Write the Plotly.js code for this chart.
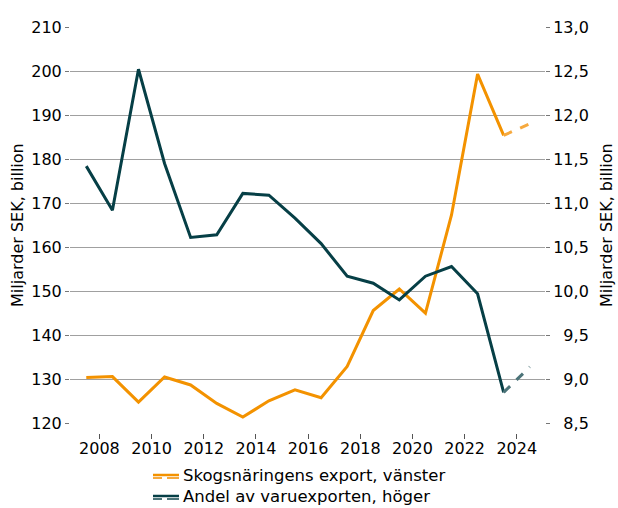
<!DOCTYPE html>
<html>
<head>
<meta charset="utf-8">
<script src="https://cdn.plot.ly/plotly-3.0.1.min.js"></script>
<style>
  html, body { margin: 0; padding: 0; background: #ffffff; }
  #chart { width: 618px; height: 508px; }
</style>
</head>
<body>
<div id="chart"></div>
<script>
// Annual data (plotted at mid-year)
const years = [2007, 2008, 2009, 2010, 2011, 2012, 2013, 2014, 2015, 2016, 2017, 2018, 2019, 2020, 2021, 2022, 2023];
// Skogsnäringens export, Miljarder SEK (left axis)
const exportValues = [130.4, 130.6, 124.8, 130.5, 128.7, 124.5, 121.4, 125.1, 127.6, 125.8, 132.9, 145.6, 150.5, 145.0, 167.3, 199.3, 185.4];
// Andel av varuexporten, procent (right axis)
const shareValues = [11.42, 10.92, 12.52, 11.45, 10.61, 10.64, 11.11, 11.09, 10.83, 10.54, 10.17, 10.09, 9.90, 10.17, 10.28, 9.97, 8.85];
// Forecast segment (dashed)
const forecastYears = [2023, 2024];
const exportForecast = [185.4, 188.0];
const shareForecast = [8.85, 9.14];

const leftTicks = [120, 130, 140, 150, 160, 170, 180, 190, 200, 210];
const rightTicks = [8.5, 9.0, 9.5, 10.0, 10.5, 11.0, 11.5, 12.0, 12.5, 13.0];

const seriesNames = ["Skogsnäringens export, vänster", "Andel av varuexporten, höger"];
const axisTitle = "Miljarder SEK, billion";

const toDate = y => y + "-07-01";
const fmtRight = v => {
  const s = v.toFixed(1).replace(".", ",");
  return s.length < 4 ? "\u2007" + s : s;
};

const orange = "#F39200";
const orangeLight = "#F6A93E";
const teal = "#063F46";
const tealLight = "#4C7479";
const solidColors = [orange, teal];
const dashColors = [orangeLight, tealLight];
const font = "DejaVu Sans, Verdana, sans-serif";

const traces = [
  {
    x: years.map(toDate), y: exportValues, type: "scatter", mode: "lines",
    name: seriesNames[0], line: { color: orange, width: 3 }, yaxis: "y"
  },
  {
    x: years.map(toDate), y: shareValues, type: "scatter", mode: "lines",
    name: seriesNames[1], line: { color: teal, width: 3 }, yaxis: "y2"
  },
  {
    x: forecastYears.map(toDate), y: exportForecast, type: "scatter", mode: "lines",
    name: seriesNames[0] + " (prognos)",
    line: { color: orangeLight, width: 3, dash: "dash" }, yaxis: "y"
  },
  {
    x: forecastYears.map(toDate), y: shareForecast, type: "scatter", mode: "lines",
    name: seriesNames[1] + " (prognos)",
    line: { color: tealLight, width: 3, dash: "dash" }, yaxis: "y2"
  }
];

// Manual legend (solid + dashed key), in paper coordinates
const plotBottomPx = 433, plotH = 406, plotL = 70, plotW = 475;
const px2x = px => (px - plotL) / plotW;
const px2y = py => (plotBottomPx - py) / plotH;
const rowsY = [475, 496];
const annotations = [];
const shapes = [];
seriesNames.forEach((name, i) => {
  const cy = rowsY[i];
  annotations.push({
    text: name, xref: "paper", yref: "paper",
    x: px2x(181), y: px2y(cy), xanchor: "left", yanchor: "middle",
    showarrow: false, font: { family: font, size: 16.5, color: "#000" }
  });
  shapes.push({
    type: "line", xref: "paper", yref: "paper",
    x0: px2x(153), x1: px2x(179), y0: px2y(cy), y1: px2y(cy),
    line: { color: solidColors[i], width: 2.5 }
  });
  shapes.push({
    type: "line", xref: "paper", yref: "paper",
    x0: px2x(153), x1: px2x(162), y0: px2y(cy + 3), y1: px2y(cy + 3),
    line: { color: dashColors[i], width: 2 }
  });
  shapes.push({
    type: "line", xref: "paper", yref: "paper",
    x0: px2x(167), x1: px2x(179), y0: px2y(cy + 3), y1: px2y(cy + 3),
    line: { color: dashColors[i], width: 2 }
  });
});

const layout = {
  width: 618, height: 508,
  margin: { l: 70, r: 73, t: 27, b: 75 },
  paper_bgcolor: "#ffffff", plot_bgcolor: "#ffffff",
  font: { family: font, size: 16, color: "#000000" },
  showlegend: false,
  annotations: annotations,
  shapes: shapes,
  xaxis: {
    type: "date",
    range: ["2006-11-15", "2025-01-30"],
    anchor: "free", position: 0,
    tick0: "2008-01-01", dtick: "M24", tickformat: "%Y",
    ticks: "outside", ticklen: 5, tickcolor: "#555", tickwidth: 1,
    ticklabelstandoff: -4,
    showgrid: false, showline: false, zeroline: false,
    tickfont: { family: font, size: 16, color: "#000" }
  },
  yaxis: {
    domain: [0.024, 1],
    range: [120, 210],
    tickvals: leftTicks,
    ticktext: leftTicks.map(String),
    ticks: "outside", ticklen: 4, tickcolor: "#777", tickwidth: 1,
    showgrid: true, gridcolor: "#A0A0A0", gridwidth: 1,
    showline: false, zeroline: false,
    tickfont: { family: font, size: 16, color: "#000" },
    title: { text: axisTitle, font: { family: font, size: 16, color: "#000" }, standoff: 3 }
  },
  yaxis2: {
    overlaying: "y", side: "right", anchor: "x",
    range: [8.5, 13.0],
    tickvals: rightTicks,
    ticktext: rightTicks.map(fmtRight),
    ticks: "outside", ticklen: 4, tickcolor: "#777", tickwidth: 1,
    showgrid: false, showline: false, zeroline: false,
    tickfont: { family: font, size: 16, color: "#000" },
    title: { text: axisTitle, font: { family: font, size: 16, color: "#000" }, standoff: 12 }
  }
};

Plotly.newPlot("chart", traces, layout, { displayModeBar: false, staticPlot: true });
</script>
</body>
</html>
